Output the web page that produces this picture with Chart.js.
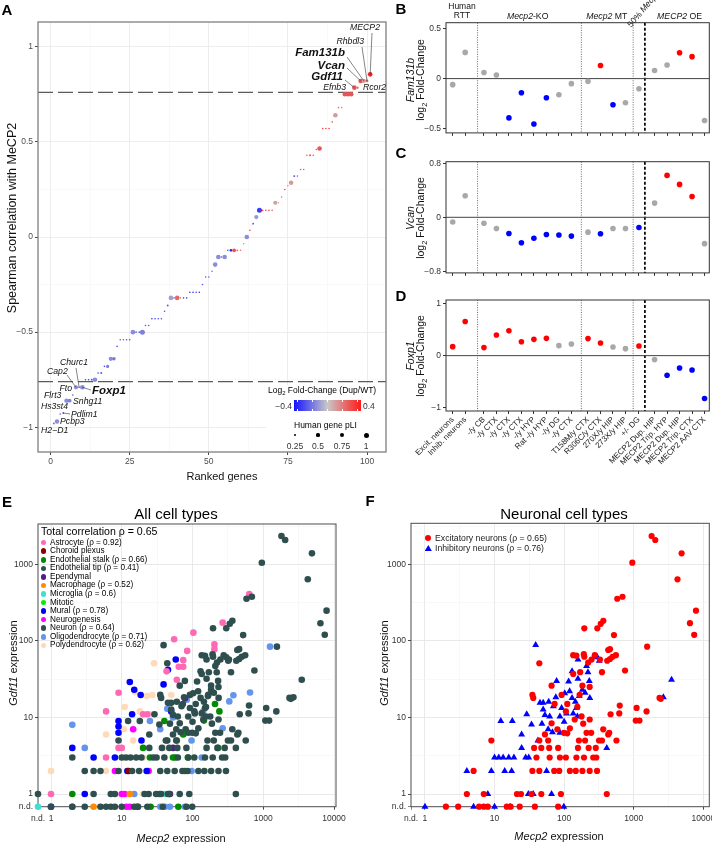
<!DOCTYPE html>
<html><head><meta charset="utf-8">
<script src="https://cdn.jsdelivr.net/npm/chart.js@4.4.1/dist/chart.umd.min.js"></script>
<style>
body{margin:0;background:#fff;}
#root{position:relative;width:712px;height:845px;overflow:hidden;font-family:"Liberation Sans",Arial,Helvetica,sans-serif;color:#000;background:#fff;}
canvas{position:absolute;}
.t{position:absolute;white-space:nowrap;line-height:1;}
</style></head><body><div id="root">
<canvas id="cA" width="395" height="490" style="left:0;top:0"></canvas>
<canvas id="cB" width="365" height="140" style="left:360px;top:0"></canvas>
<canvas id="cC" width="365" height="140" style="left:360px;top:140px"></canvas>
<canvas id="cD" width="365" height="200" style="left:360px;top:280px"></canvas>
<canvas id="cE" width="356" height="345" style="left:0;top:500px"></canvas>
<canvas id="cF" width="370" height="345" style="left:356px;top:500px"></canvas>
</div>
<script>
// ================= DATA =================
// Panel A: ranked genes
const rankA = [1,2,3,4,5,6,7,8,9,10,11,12,13,14,15,16,17,18,19,20,21,22,23,24,25,26,27,28,29,30,31,32,33,34,35,36,37,38,39,40,41,42,43,44,45,46,47,48,49,50,51,52,53,54,55,56,57,58,59,60,61,62,63,64,65,66,67,68,69,70,71,72,73,74,75,76,77,78,79,80,81,82,83,84,85,86,87,88,89,90,91,92,93,94,95,96,97,98,99,100,101];
const corrA = [-0.98,-0.97,-0.93,-0.925,-0.86,-0.86,-0.83,-0.79,-0.79,-0.79,
 -0.75,-0.75,-0.75,-0.75,-0.715,-0.715,-0.68,-0.68,-0.64,-0.64,
 -0.575,-0.54,-0.54,-0.54,-0.54,-0.5,-0.5,-0.5,-0.5,-0.465,
 -0.465,-0.43,-0.43,-0.43,-0.43,-0.39,-0.36,-0.32,-0.32,-0.32,
 -0.32,-0.32,-0.32,-0.29,-0.29,-0.29,-0.29,-0.25,-0.21,-0.21,
 -0.18,-0.145,-0.105,-0.105,-0.105,-0.07,-0.07,-0.07,-0.07,-0.07,
 -0.035,0,0.035,0.07,0.105,0.14,0.14,0.14,0.14,0.14,
 0.18,0.18,0.21,0.25,0.27,0.285,0.32,0.32,0.355,0.355,
 0.43,0.43,0.43,0.46,0.465,0.57,0.57,0.57,0.605,0.64,
 0.68,0.68,0.75,0.75,0.75,0.785,0.785,0.82,0.82,0.82,0.855];
const fcA = [-0.25,-0.15,-0.3,-0.3,-0.15,-0.18,-0.3,-0.15,-0.3,-0.15,
 -0.35,-0.35,-0.3,-0.15,-0.35,-0.3,-0.3,-0.2,-0.15,-0.2,
 -0.3,-0.3,-0.25,-0.3,-0.3,-0.15,-0.3,-0.3,-0.18,-0.3,
 -0.3,-0.4,-0.35,-0.3,-0.3,-0.3,-0.3,-0.1,-0.25,0.25,
 0.2,-0.3,-0.3,-0.4,-0.4,-0.35,-0.4,-0.3,-0.3,-0.25,
 -0.3,-0.15,-0.15,-0.3,-0.15,-0.35,-0.4,0.3,0.25,0.25,
 0.2,-0.15,0.35,-0.3,-0.12,-0.35,0.35,0.35,0.35,0.3,
 0.1,0.1,0.25,0.35,0.3,0.12,-0.3,0.3,0.3,0.3,
 0.3,0.3,0.3,0.3,0.3,0.35,0.35,0.35,0.3,0.12,
 0.25,0.2,0.3,0.3,0.3,0.3,0.25,0.3,0.12,0.25,0.45];
const pliA = [0.15,0.85,0.1,0.15,0.85,0.7,0.1,0.8,0.1,0.9,
 0.1,0.1,0.15,0.9,0.1,0.2,0.1,0.5,0.8,0.6,
 0.1,0.1,0.1,0.1,0.1,0.9,0.1,0.1,1,0.1,
 0.1,0.1,0.1,0.1,0.1,0.1,0.15,0.9,0.1,0.9,
 0.1,0.1,0.1,0.1,0.1,0.1,0.1,0.1,0.1,0.1,
 0.05,0.9,0.9,0.1,0.9,0.1,0.4,0.7,0.15,0.1,
 0.05,0.9,0.1,0.15,0.8,1,0.1,0.1,0.1,0.1,
 0.8,0.1,0.1,0.1,0.05,0.9,0.2,0.1,0.1,0.1,
 0.1,0.2,0.1,0.1,0.9,0.1,0.1,0.1,0.1,0.9,
 0.1,0.1,0.9,0.9,0.9,0.9,0.3,0.9,0.8,0.4,0.9];
const corrThreshold = 0.76;
const geneLabels = ["MECP2","Rhbdl3","Fam131b","Vcan","Gdf11","Efnb3","Rcor2","Churc1","Cap2","Fto","Foxp1","Flrt3","Snhg11","Hs3st4","Pdlim1","Pcbp3","H2\u2212D1"];
const geneLabelRanks = [101,100,99,98,96,95,97,9,8,8,10,6,5,7,4,2,1];
const geneLabelBold = [0,0,1,1,1,0,0,0,0,0,1,0,0,0,0,0,0];
const fcLegendTicks = [-0.4, 0.4];
const pliLegend = [0.25, 0.5, 0.75, 1];

// Panels B-D: studies
const studyLabels = ["Excit. neurons","Inhib. neurons","-/y CB","-/y CTX","-/y CTX","-/y CTX","-/y HYP","Rat -/y HYP","-/y DG","-/y CTX","T158M/y CTX","R306C/y CTX","270X/y HIP","273X/y HIP","+/- DG","MECP2 Dup. HIP","MECP2 Trip. HYP","MECP2 Dup. HIP","MECP2 Trip. CTX","MECP2 AAV CTX"];
const studyGroup = [0,0,1,1,1,1,1,1,1,1,2,2,2,2,3,4,4,4,4,4];
const fam131b = [-0.06,0.26,0.06,0.036,-0.39,-0.14,-0.45,-0.19,-0.16,-0.05,-0.027,0.13,-0.26,-0.24,-0.10,0.08,0.135,0.257,0.218,-0.416];
const fam131bSig = ['n','n','n','n','d','d','d','d','n','n','n','u','d','n','n','n','n','u','u','n'];
const vcan = [-0.069,0.32,-0.088,-0.166,-0.24,-0.376,-0.31,-0.254,-0.263,-0.278,-0.22,-0.244,-0.166,-0.166,-0.15,0.21,0.62,0.487,0.307,-0.39];
const vcanSig = ['n','n','n','n','d','d','d','d','d','d','n','d','n','n','d','n','u','u','u','n'];
const foxp1 = [0.174,0.66,0.155,0.40,0.48,0.27,0.315,0.335,0.193,0.226,0.33,0.245,0.168,0.135,0.187,-0.077,-0.38,-0.24,-0.277,-0.83];
const foxp1Sig = ['u','u','u','u','u','u','u','u','n','n','u','u','n','n','u','n','d','d','d','d'];

// Panels E-F: [Mecp2 expression, Gdf11 expression]; 0 = not detected
const excitatory = [[1808,2340],[2040,2075],[4880,1390],[955,1050],[4260,637],[580,355],[690,377],[7850,248],[6430,170],[7400,120],[366,183],[336,167],[195,146],[300,146],[520,119],[44,51],[1560,84],[456,78],
 [150,64],[192,67],[222,52],[248,57],[276,65],[327,57],[416,55],[456,58],[497,62],[555,65],[430,76],[195,62],[135,65],
 [750,41],[350,39],[170,39],[135,37],
 [66,26],[35,19.7],[36,18],[92,19.7],[167,19.7],[233,25],[183,26],[73,15],[111,15],[155,13.7],[188,8.3],[233,9.4],[106,12],[121,7.2],[99,6.3],[111,6.2],[80,7],[142,9.4],[66,8.4],[53,6],[59,5],[44,5],[82,4],[37,4],[47,4],[61,4],[163,5],[200,5],[158,4],[225,4],[285,4],[350,5],[317,5],[565,5],[430,6],[365,7],[262,3],[290,3],[150,3],[193,3],[106,3],[87,3],[62,3],[40,3],[9,5],
 [5,2],[35,2],[44,2],[72,2],[85,2],[121,2],[147,2],[183,2],[233,2],[297,2],
 [4,1],[7,1],[21,1],[24,1],[34,1],[47,1],[90,1],[410,1],
 [2,0],[3,0],[6,0],[7,0],[8,0],[15,0],[17,0],[23,0],[38,0],[82,0],
 [630,14.3],[620,11.3],[465,11],[445,6.3],[1100,13.3],[1070,9.1],[1210,9.1],[1530,12],[2450,17.5],[2350,18],[210,6.3],[245,6.3],[178,10.3]];
const inhibitory = [[39,88],[158,57],[130,40],[210,47],[220,39],[300,61],[320,55],[3500,31],[78,30],[116,29.5],[158,32],[230,30],[2670,18.3],[76,18.3],[102,20.7],
 [29,11],[45,15.5],[50,15.5],[50,12.7],[53,10.8],[48,8.3],[34,8.1],[24.5,6],[24.5,4],[42,5],[12.3,9],[18,9],
 [10,3],[11.5,3],[13.3,3],[16,3],[19,3],[28,3],[31,3],[4,2],[9,2],[14,2],[17.6,2],[56,2],[8,1],[30.6,1],[36,1],[66,1],
 [1,0],[5,0],[10,0],[16.7,0],[99,0],[87,6.3],[59,7],[410,4],[234,18],[183,23],[155,10.3],[150,13.3],[135,11.3],[108,11.3],[87,10.3],[92,13.3],[62,10.3],[100,8.8],[68,6.4],
 [60,16],[70,14],[120,22],[130,18],[145,16],[165,19],[200,21]];
const astrocyte = [[635,410],[267,173],[103,128],[55,105],[204,90],[204,78],[84,74],[74,56],[64,46],[74,46],[43,40],[60,31],[9,21],[6,12],[23,11],[9,4],[10,4],[6,3],[1,1],[20,11]];
const choroidPlexus = [[12.5,2]];
const endoStalk = [[208,15],[145,9.1],[74,6],[230,4],[60,5],[25,3],[53,3],[57,3],[86,3],[20,4],[78,2],[2,1],[25.6,0],[63,0],[40,9],[240,12]];
const endoTip = [[0,1],[3,2],[2,3],[45,1]];
const ependymal = [[53,4],[48,1],[78,17.8]];
const macrophage = [[4,0],[13,1]];
const microglia = [[0,0],[16.3,0],[41,1]];
const mitotic = [];
const mural = [[58,57],[45,42],[13,29],[15,23],[39,27],[18.5,19.6],[9,7.6],[9,6.3],[9,9],[14,11],[2,4],[4,3],[8,3],[19,5],[3,1],[1,0],[50,12],[22.5,2],[12,2]];
const neurogenesis = [[2,0],[11.7,0],[10,1],[11,1],[8,2],[24,2],[14.5,7],[13,0]];
const oligodendrocyte = [[1245,84],[378,19.5],[331,16.2],[650,21.2],[267,7.2],[2,8],[3,4],[15,1],[35,7],[97,5],[135,3],[97,2],[35,0],[41,0],[48,0],[78,0],[53,10],[142,12],[83,17],[44,13],[25,9]];
const polydendrocyte = [[28.6,51],[1,2],[6,6],[6,2],[10.5,3],[10.7,7],[14.5,5],[20,3],[20,1],[38.6,4],[22.5,19],[27,19.6],[18,12],[50,19.6],[15.4,21.5],[11,13.7],[25,11]];
const neuron = excitatory.concat(inhibitory);
const cellTypes = ["Astrocyte","Choroid plexus","Endothelial stalk","Endothelial tip","Ependymal","Macrophage","Microglia","Mitotic","Mural","Neurogenesis","Neuron","Oligodendrocyte","Polydendrocyte"];
const cellRho = [0.92,null,0.66,0.41,null,0.52,0.6,null,0.78,null,0.64,0.71,0.62];
const cellData = [astrocyte,choroidPlexus,endoStalk,endoTip,ependymal,macrophage,microglia,mitotic,mural,neurogenesis,neuron,oligodendrocyte,polydendrocyte];
const totalRho = 0.65;
const excRho = 0.65, inhRho = 0.76;

// ================= STYLE / LAYOUT =================
const FONT = '"Liberation Sans", Arial, Helvetica, sans-serif';
Chart.defaults.font.family = FONT;
Chart.defaults.animation = false;
const cellColors = ["#FF69B4","#8B0000","#008B00","#2F4F4F","#551A8B","#FF8C00","#40E0D0","#00EE00","#0000FF","#FF00FF","#2F4F4F","#6495ED","#FFDAB9"];
const sigColor = {u:'#FF0000', d:'#0000FF', n:'#A8A8A8'};
const groupOffset = [0,0.5,0.83,0.91,1.16];
const dividerFrac = [0.66,0.6,0.57,0.38];
const root = document.getElementById('root');

function fcColor(v){
  const t = Math.max(-1, Math.min(1, v/0.45));
  const lo=[20,20,255], mid=[200,200,200], hi=[255,25,25];
  const e = t<0?lo:hi, k=Math.abs(t);
  const c = mid.map((m,i)=>Math.round(m+(e[i]-m)*k));
  return `rgb(${c[0]},${c[1]},${c[2]})`;
}
const pliRadius = p => 0.6 + 1.9*p;

function addText(html, x, y, o={}){
  const d=document.createElement('div'); d.className='t'; d.innerHTML=html;
  d.style.left=x+'px'; d.style.top=y+'px'; d.style.fontSize=(o.size||11)+'px';
  if(o.bold) d.style.fontWeight='bold';
  if(o.italic) d.style.fontStyle='italic';
  if(o.color) d.style.color=o.color;
  if(o.lh){ d.style.lineHeight=o.lh+'px'; d.style.textAlign='center'; }
  const tx = o.align==='left'?'0':(o.align==='right'?'-100%':'-50%');
  d.style.transform=`translate(${tx},-50%)`+(o.rot?` rotate(${o.rot}deg)`:'');
  root.appendChild(d); return d;
}
function addBox(x,y,w,h,style){ const d=document.createElement('div'); d.style.position='absolute'; d.style.left=x+'px'; d.style.top=y+'px'; d.style.width=w+'px'; d.style.height=h+'px'; Object.assign(d.style, style||{}); root.appendChild(d); return d; }
const SUB2 = '<span style="font-size:0.7em;position:relative;top:0.35em">2</span>';

const framePlugin = {
  id:'frame',
  beforeDatasetsDraw(chart,args,o){ if(o.under) drawFrame(chart,o); },
  afterDatasetsDraw(chart,args,o){ if(!o.under) drawFrame(chart,o); }
};
function drawFrame(chart,o){ const a=chart.chartArea,c=chart.ctx; c.save(); c.strokeStyle=o.color||'#333'; c.lineWidth=o.width||1; c.strokeRect(a.left,a.top,a.right-a.left,a.bottom-a.top); c.restore(); }

// ================= PANEL A =================
const isHalf = v => Math.abs(v*2-Math.round(v*2))<1e-9;
const isQuarter25 = v => Math.abs(v/25-Math.round(v/25))<1e-9;
const geneLabelLayout = {
 'MECP2':{x:380,y:28,align:'right',from:[372,33]},
 'Rhbdl3':{x:364,y:42,align:'right',from:[362,47]},
 'Fam131b':{x:345,y:53,align:'right',from:[347,57]},
 'Vcan':{x:345,y:65.5,align:'right',from:[347,68]},
 'Gdf11':{x:343,y:77,align:'right',from:[345,80]},
 'Efnb3':{x:346,y:88,align:'right'},
 'Rcor2':{x:363,y:88,align:'left'},
 'Churc1':{x:60,y:363,align:'left',from:[76,368]},
 'Cap2':{x:47,y:372,align:'left',from:[67,375]},
 'Fto':{x:72,y:389,align:'right'},
 'Foxp1':{x:92,y:391,align:'left',from:[91,390]},
 'Flrt3':{x:44,y:396,align:'left'},
 'Snhg11':{x:73,y:402,align:'left'},
 'Hs3st4':{x:41,y:407,align:'left'},
 'Pdlim1':{x:71,y:415,align:'left',from:[70,414]},
 'Pcbp3':{x:60,y:422,align:'left'},
 'H2\u2212D1':{x:41,y:431,align:'left'}
};
const annotA = {
  id:'annotA',
  beforeDatasetsDraw(chart){
    const {ctx, chartArea:a, scales:{y}} = chart;
    ctx.save(); ctx.setLineDash([15,5]); ctx.strokeStyle='#5a5a5a'; ctx.lineWidth=1.1;
    [corrThreshold,-corrThreshold].forEach(v=>{ const py=y.getPixelForValue(v); ctx.beginPath(); ctx.moveTo(a.left,py); ctx.lineTo(a.right,py); ctx.stroke(); });
    ctx.restore();
  },
  afterDatasetsDraw(chart){
    const {ctx, scales:{x,y}} = chart;
    ctx.save();
    geneLabels.forEach((g,i)=>{
      const L = geneLabelLayout[g]; const idx = rankA.indexOf(geneLabelRanks[i]);
      const px = x.getPixelForValue(rankA[idx]), py = y.getPixelForValue(corrA[idx]);
      if(L.from){ ctx.strokeStyle='#333'; ctx.lineWidth=0.6; ctx.beginPath(); ctx.moveTo(L.from[0],L.from[1]); ctx.lineTo(px,py); ctx.stroke(); }
      ctx.fillStyle='#111'; ctx.textBaseline='middle'; ctx.textAlign=L.align;
      ctx.font = geneLabelBold[i] ? `italic bold 11.5px ${FONT}` : `italic 8.7px ${FONT}`;
      ctx.fillText(g, L.x, L.y);
    });
    ctx.restore();
  }
};
new Chart(document.getElementById('cA'), {
  type:'scatter',
  data:{datasets:[{data: rankA.map((r,i)=>({x:r,y:corrA[i]})), pointBackgroundColor: fcA.map(fcColor), pointBorderWidth:0, pointRadius: pliA.map(pliRadius)}]},
  options:{responsive:false, animation:false, events:[],
    layout:{padding:{left:0,right:9,top:22,bottom:0}},
    plugins:{legend:{display:false},tooltip:{enabled:false},frame:{color:'#7f7f7f',width:1.3}},
    scales:{
      x:{type:'linear',min:-4,max:106,bounds:'data',
        afterBuildTicks:s=>{s.ticks=[0,12.5,25,37.5,50,62.5,75,87.5,100].map(v=>({value:v}));},
        afterFit:s=>{s.height=38;},
        ticks:{autoSkip:false,maxRotation:0,minRotation:0,padding:2,font:{size:8.5},color:'#4d4d4d',callback:v=>isQuarter25(v)?String(v):''},
        grid:{tickLength:3,color:c=>isQuarter25(c.tick.value)?'#EBEBEB':'#F5F5F5',lineWidth:c=>isQuarter25(c.tick.value)?0.9:0.6,tickColor:c=>isQuarter25(c.tick.value)?'#333':'rgba(0,0,0,0)'},
        border:{display:false}},
      y:{type:'linear',min:-1.13,max:1.13,bounds:'data',
        afterBuildTicks:s=>{s.ticks=[-1,-0.75,-0.5,-0.25,0,0.25,0.5,0.75,1].map(v=>({value:v}));},
        afterFit:s=>{s.width=38;},
        ticks:{autoSkip:false,padding:2,font:{size:8.5},color:'#4d4d4d',callback:v=>isHalf(v)?String(v).replace('-','\u2212'):''},
        grid:{tickLength:3,color:c=>isHalf(c.tick.value)?'#EBEBEB':'#F5F5F5',lineWidth:c=>isHalf(c.tick.value)?0.9:0.6,tickColor:c=>isHalf(c.tick.value)?'#333':'rgba(0,0,0,0)'},
        border:{display:false}}
    }},
  plugins:[framePlugin, annotA]
});
addText('A', 7, 9, {size:15, bold:true});
addText('Ranked genes', 222, 476, {size:11, color:'#111'});
addText('Spearman correlation with MeCP2', 12, 218, {size:12.5, rot:-90, color:'#111'});
// Legend A
addBox(266, 385, 119, 66, {background:'#fff'});
addText(`Log${SUB2} Fold-Change (Dup/WT)`, 268, 390, {size:8.5, align:'left'});
{
  const stops=[]; for(let k=0;k<=10;k++){ const v=-0.45+0.09*k; stops.push(`${fcColor(v)} ${k*10}%`); }
  addBox(294, 400, 67, 11, {background:`linear-gradient(to right, ${stops.join(',')})`});
  [-0.4,-0.2,0,0.2,0.4].forEach(v=>{ const fx=294+67*(v+0.45)/0.9; addBox(fx-0.4,400,0.8,2.2,{background:'#fff'}); addBox(fx-0.4,408.8,0.8,2.2,{background:'#fff'}); });
  addText(String(fcLegendTicks[0]).replace('-','\u2212'), 292, 405.5, {size:8.5, align:'right', color:'#333'});
  addText(String(fcLegendTicks[1]), 363, 405.5, {size:8.5, align:'left', color:'#333'});
}
addText('Human gene pLI', 294, 425, {size:8.5, align:'left'});
[295,318,342,366].forEach((x,i)=>{
  const r = pliRadius(pliLegend[i]);
  addBox(x-r, 435-r, 2*r, 2*r, {background:'#000', borderRadius:'50%'});
  addText(String(pliLegend[i]), x, 446, {size:8.5, color:'#333'});
});

// ================= PANELS B-D =================
const posB = studyGroup.map((g,i)=> i + groupOffset[g]);
const dividers = [];
for(let k=0;k<4;k++){
  const a = posB[studyGroup.lastIndexOf(k)], b = posB[studyGroup.indexOf(k+1)];
  dividers.push(a + dividerFrac[k]*(b-a));
}
const X_MIN = -0.536, X_MAX = 20.54;
function drawRich(ctx, parts, cx, cy, size){
  let w=0; parts.forEach(p=>{ ctx.font=`${p[1]?'italic ':''}${size}px ${FONT}`; w+=ctx.measureText(p[0]).width; });
  let x=cx-w/2; ctx.textAlign='left'; ctx.textBaseline='middle';
  parts.forEach(p=>{ ctx.font=`${p[1]?'italic ':''}${size}px ${FONT}`; ctx.fillText(p[0],x,cy); x+=ctx.measureText(p[0]).width; });
}
const fcPlugin = {
  id:'fcDeco',
  beforeDatasetsDraw(chart,args,o){
    const {ctx, chartArea:a, scales:{x,y}} = chart;
    ctx.save();
    dividers.forEach((d,k)=>{
      const px=x.getPixelForValue(d); ctx.beginPath();
      if(k===3){ ctx.setLineDash([3,2]); ctx.lineWidth=1.7; ctx.strokeStyle='#000'; }
      else { ctx.setLineDash([1,1.4]); ctx.lineWidth=0.8; ctx.strokeStyle='#444'; }
      ctx.moveTo(px,a.top); ctx.lineTo(px,a.bottom); ctx.stroke();
    });
    ctx.setLineDash([]); ctx.strokeStyle='#444'; ctx.lineWidth=1;
    const py=y.getPixelForValue(0); ctx.beginPath(); ctx.moveTo(a.left,py); ctx.lineTo(a.right,py); ctx.stroke();
    if(o.headers){
      ctx.fillStyle='#111';
      const cen = g => (x.getPixelForValue(posB[studyGroup.indexOf(g)]) + x.getPixelForValue(posB[studyGroup.lastIndexOf(g)]))/2;
      drawRich(ctx,[['Human',0]],cen(0)+3,6.5,8.5);
      drawRich(ctx,[['RTT',0]],cen(0)+3,15.5,8.5);
      drawRich(ctx,[['Mecp2',1],['-KO',0]],cen(1),16.5,8.7);
      drawRich(ctx,[['Mecp2',1],[' MT',0]],cen(2),16.5,8.7);
      drawRich(ctx,[['MECP2',1],[' OE',0]],cen(4),16.5,8.7);
      ctx.save(); ctx.translate(cen(3)+5,9); ctx.rotate(-50*Math.PI/180);
      drawRich(ctx,[['50% ',0],['Mecp2',1]],0,0,8.5); ctx.restore();
    }
    ctx.restore();
  }
};
function makeFC(id, vals, sig, ymin, ymax, yt, ylab, padTop, xh, showLabels, headers){
  new Chart(document.getElementById(id), {
    type:'scatter',
    data:{datasets:[{data: posB.map((p,i)=>({x:p,y:vals[i]})), pointBackgroundColor: sig.map(s=>sigColor[s]), pointRadius:2.8, pointBorderWidth:0}]},
    options:{responsive:false, animation:false, events:[],
      layout:{padding:{left:0,right:15.7,top:padTop,bottom:0}},
      plugins:{legend:{display:false},tooltip:{enabled:false},frame:{color:'#333',width:1},fcDeco:{headers}},
      scales:{
        x:{type:'linear',min:X_MIN,max:X_MAX,bounds:'data',
          afterBuildTicks:s=>{s.ticks=posB.map(v=>({value:v}));},
          afterFit:s=>{s.height=xh;},
          ticks:{display:showLabels,autoSkip:false,minRotation:45,maxRotation:45,font:{size:8},color:'#222',padding:1,callback:(v,i)=>studyLabels[i]},
          grid:{drawOnChartArea:false,drawTicks:true,tickLength:3,tickColor:'#333'},border:{display:false}},
        y:{type:'linear',min:ymin,max:ymax,bounds:'data',
          afterBuildTicks:s=>{s.ticks=yt.map(v=>({value:v}));},
          afterFit:s=>{s.width=86;},
          ticks:{autoSkip:false,font:{size:8.5},color:'#333',padding:2,callback:(v,i)=>ylab[i]},
          grid:{drawOnChartArea:false,tickLength:3,tickColor:'#333'},border:{display:false}}
      }},
    plugins:[framePlugin, fcPlugin]
  });
}
makeFC('cB', fam131b, fam131bSig, -0.539, 0.555, [-0.5,0,0.5], ['\u22120.5','0','0.5'], 22.7, 6, false, true);
makeFC('cC', vcan, vcanSig, -0.823, 0.823, [-0.8,0,0.8], ['\u22120.8','0','0.8'], 21.7, 5.7, false, false);
makeFC('cD', foxp1, foxp1Sig, -1.072, 1.077, [-1,0,1], ['\u22121','0','1'], 20, 69, true, false);
addText('B', 401, 8, {size:15, bold:true});
addText('C', 401, 152, {size:15, bold:true});
addText('D', 401, 295, {size:15, bold:true});
addText(`<i>Fam131b</i><br>log${SUB2} Fold-Change`, 416, 80, {size:10.5, rot:-90, lh:10, color:'#111'});
addText(`<i>Vcan</i><br>log${SUB2} Fold-Change`, 416, 218, {size:10.5, rot:-90, lh:10, color:'#111'});
addText(`<i>Foxp1</i><br>log${SUB2} Fold-Change`, 416, 356, {size:10.5, rot:-90, lh:10, color:'#111'});

// ================= PANELS E-F =================
function logAxis(min,max,majors,minors,afterFit,pad){
  const all=[min].concat(majors,minors).sort((a,b)=>a-b);
  const isMaj = v => majors.indexOf(v)>=0;
  return {type:'logarithmic',min,max,bounds:'data',
    afterBuildTicks:s=>{s.ticks=all.map(v=>({value:v}));},
    afterFit,
    ticks:{autoSkip:false,maxRotation:0,minRotation:0,padding:pad,font:{size:8.5},color:'#333',
      callback:v=> v===min?'n.d.':(isMaj(v)?String(v):'')},
    grid:{tickLength:3,
      color:c=>{const v=c.tick.value; return v===min?'rgba(0,0,0,0)':(isMaj(v)?'#E6E6E6':'#F3F3F3');},
      lineWidth:c=>isMaj(c.tick.value)?0.9:0.6,
      tickColor:c=>{const v=c.tick.value; return (v===min||isMaj(v))?'#333':'rgba(0,0,0,0)';}},
    border:{display:false}};
}
const E_XMIN=0.655, E_XMAX=10670, EF_YMIN=0.683, E_YMAX=3360;
const F_XMIN=0.63, F_XMAX=12200, F_YMAX=3430;
const toPts = (arr,xmin,ymin) => arr.map(p=>({x:p[0]>0?p[0]:xmin, y:p[1]>0?p[1]:ymin}));
const drawOrder = [10,0,1,2,3,4,5,6,7,8,9,11,12];
new Chart(document.getElementById('cE'), {
  type:'scatter',
  data:{datasets: drawOrder.map(k=>({data:toPts(cellData[k],E_XMIN,EF_YMIN), pointBackgroundColor:cellColors[k], pointBorderWidth:0, pointRadius:3.3, clip:false}))},
  options:{responsive:false, animation:false, events:[],
    layout:{padding:{left:0,right:20,top:24,bottom:0}},
    plugins:{legend:{display:false},tooltip:{enabled:false},frame:{color:'#4d4d4d',width:1,under:true}},
    scales:{
      x:logAxis(E_XMIN,E_XMAX,[1,10,100,1000,10000],[3.162,31.62,316.2,3162],s=>{s.height=38.3;},4),
      y:logAxis(EF_YMIN,E_YMAX,[1,10,100,1000],[3.162,31.62,316.2,3162],s=>{s.width=38;},2)
    }},
  plugins:[framePlugin]
});
new Chart(document.getElementById('cF'), {
  type:'scatter',
  data:{datasets:[
    {data:toPts(excitatory,F_XMIN,EF_YMIN), pointBackgroundColor:'#FF0000', pointBorderWidth:0, pointRadius:3.1, pointStyle:'circle', clip:false},
    {data:toPts(inhibitory,F_XMIN,EF_YMIN), pointBackgroundColor:'#0000FF', pointBorderWidth:0, pointRadius:4, pointStyle:'triangle', clip:false}
  ]},
  options:{responsive:false, animation:false, events:[],
    layout:{padding:{left:0,right:16.7,top:23.3,bottom:0}},
    plugins:{legend:{display:false},tooltip:{enabled:false},frame:{color:'#4d4d4d',width:1,under:true}},
    scales:{
      x:logAxis(F_XMIN,F_XMAX,[1,10,100,1000,10000],[3.162,31.62,316.2,3162],s=>{s.height=38.3;},4),
      y:logAxis(EF_YMIN,F_YMAX,[1,10,100,1000],[3.162,31.62,316.2,3162],s=>{s.width=55;},2)
    }},
  plugins:[framePlugin]
});
addText('E', 7, 501, {size:15, bold:true});
addText('F', 370, 500, {size:15, bold:true});
addText('All cell types', 176, 513, {size:15});
addText('Neuronal cell types', 564, 513, {size:15});
addText('<i>Gdf11</i> expression', 13, 663, {size:11, rot:-90, color:'#111'});
addText('<i>Gdf11</i> expression', 384, 663, {size:11, rot:-90, color:'#111'});
addText('<i>Mecp2</i> expression', 181, 838, {size:11, color:'#111'});
addText('<i>Mecp2</i> expression', 559, 836, {size:11, color:'#111'});
// Legend E
addText(`Total correlation \u03C1 = ${totalRho}`, 41, 531, {size:10.6, align:'left'});
cellTypes.forEach((n,i)=>{
  const cy = 542.7 + i*8.55;
  addBox(43.3-2.8, cy-2.8, 5.6, 5.6, {background:cellColors[i], borderRadius:'50%'});
  addText(n + (cellRho[i]!==null?` (\u03C1 = ${cellRho[i]})`:''), 50, cy, {size:8.2, align:'left'});
});
// Legend F
addBox(428.3-3, 538.3-3, 6, 6, {background:'#FF0000', borderRadius:'50%'});
addText(`Excitatory neurons (\u03C1 = ${excRho})`, 435, 538.3, {size:8.7, align:'left', color:'#222'});
addBox(428.3-3.6, 548.3-3.3, 7.2, 6, {background:'#0000FF', clipPath:'polygon(50% 0,100% 100%,0 100%)'});
addText(`Inhibitory neurons (\u03C1 = ${inhRho})`, 435, 548.3, {size:8.7, align:'left', color:'#222'});
</script></body></html>
